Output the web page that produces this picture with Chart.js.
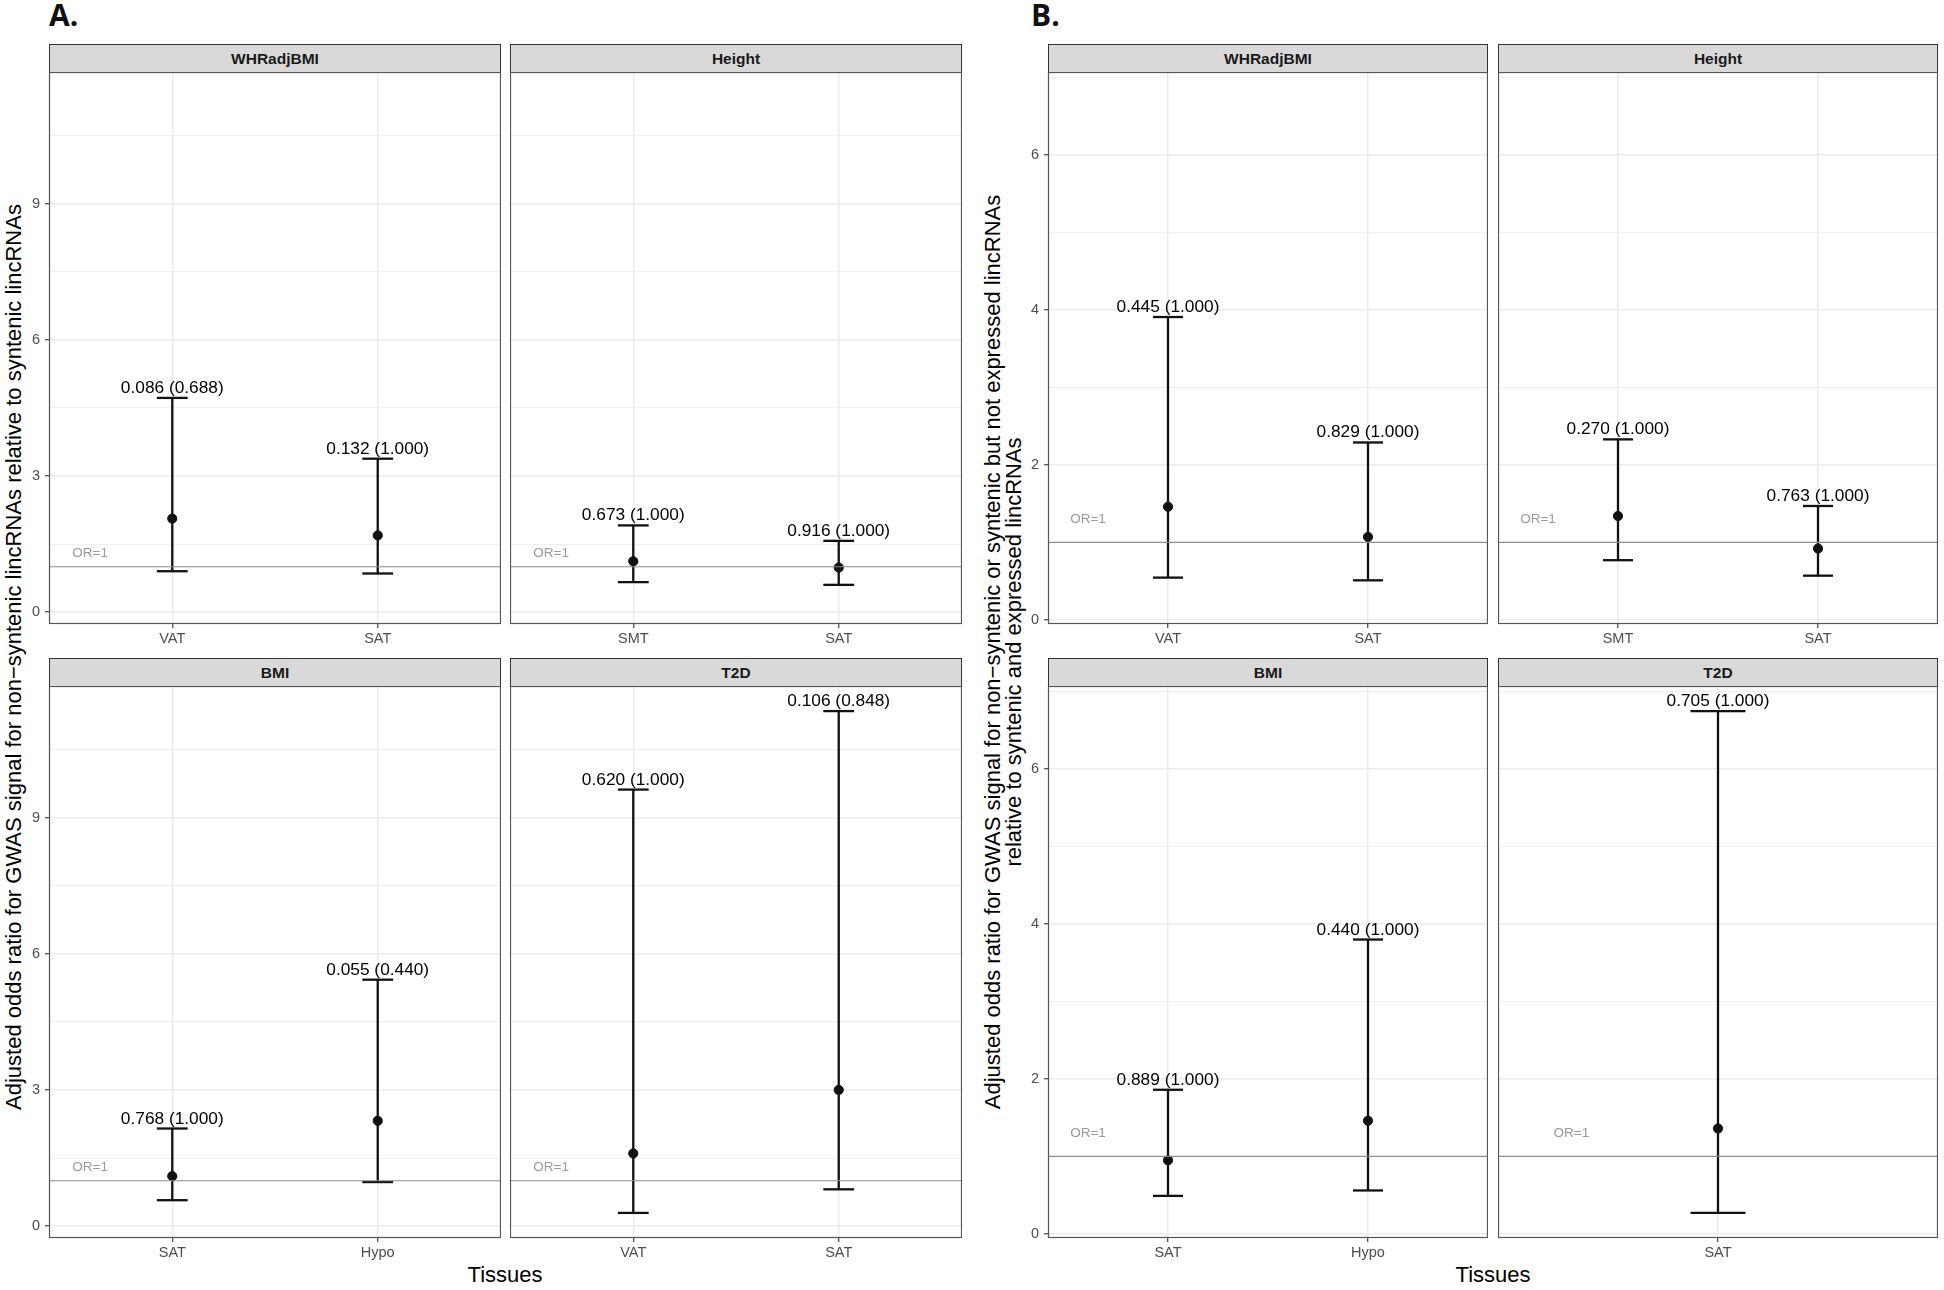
<!DOCTYPE html>
<html>
<head>
<meta charset="utf-8">
<title>Adjusted odds ratios by tissue</title>
<script src="https://cdn.jsdelivr.net/npm/chart.js@4.4.0/dist/chart.umd.min.js"></script>
<style>
  body { margin: 0; width: 1944px; height: 1290px; background: #fff; position: relative; overflow: hidden;
         font-family: "Liberation Sans", Arial, Helvetica, sans-serif; }
  canvas { position: absolute; }
  .strip { position: absolute; box-sizing: border-box; background: #d9d9d9; border: 1px solid #333;
           text-align: center; font-weight: bold; font-size: 15.5px; color: #1a1a1a; line-height: 27px; }
  .tag { position: absolute; font-family: "Open Sans", sans-serif; font-weight: 700; font-size: 30px; line-height: 30px; color: #111; }
  .xtitle { position: absolute; font-size: 22px; color: #000; transform: translate(-50%, -50%); white-space: nowrap; }
  .ytitle { position: absolute; font-size: 22px; color: #000; text-align: center; line-height: 21px;
            white-space: nowrap; transform: translate(-50%, -50%) rotate(-90deg); }
</style>
</head>
<body>

<div class="tag" style="left:49px; top:0px;">A.</div>
<div class="tag" style="left:1031px; top:0px;">B.</div>

<div class="ytitle" style="left:13px; top:657px;">Adjusted odds ratio for GWAS signal for non−syntenic lincRNAs relative to syntenic lincRNAs</div>
<div class="ytitle" style="left:1003px; top:652px;">Adjusted odds ratio for GWAS signal for non−syntenic or syntenic but not expressed lincRNAs<br>relative to syntenic and expressed lincRNAs</div>

<div class="xtitle" style="left:505px; top:1275px;">Tissues</div>
<div class="xtitle" style="left:1493px; top:1275px;">Tissues</div>

<script>
const facetNames = ['WHRadjBMI', 'Height', 'BMI', 'T2D'];

// A. non-syntenic vs syntenic lincRNAs
const aTissues = [['VAT', 'SAT'], ['SMT', 'SAT'], ['SAT', 'Hypo'], ['VAT', 'SAT']];
const aOR      = [[2.06, 1.69], [1.12, 0.98], [1.10, 2.32], [1.60, 3.00]];
const aLow     = [[0.90, 0.85], [0.66, 0.60], [0.57, 0.97], [0.29, 0.81]];
const aHigh    = [[4.72, 3.38], [1.91, 1.57], [2.15, 5.43], [9.62, 11.35]];
const aLabels  = [['0.086 (0.688)', '0.132 (1.000)'], ['0.673 (1.000)', '0.916 (1.000)'],
                  ['0.768 (1.000)', '0.055 (0.440)'], ['0.620 (1.000)', '0.106 (0.848)']];
const aTicks   = [0, 3, 6, 9];

// B. non-syntenic or syntenic-not-expressed vs syntenic and expressed
const bTissues = [['VAT', 'SAT'], ['SMT', 'SAT'], ['SAT', 'Hypo'], ['SAT']];
const bOR      = [[1.46, 1.07], [1.34, 0.92], [0.95, 1.46], [1.36]];
const bLow     = [[0.545, 0.51], [0.77, 0.57], [0.49, 0.56], [0.27]];
const bHigh    = [[3.91, 2.29], [2.33, 1.47], [1.86, 3.80], [6.75]];
const bLabels  = [['0.445 (1.000)', '0.829 (1.000)'], ['0.270 (1.000)', '0.763 (1.000)'],
                  ['0.889 (1.000)', '0.440 (1.000)'], ['0.705 (1.000)']];
const bTicks   = [0, 2, 4, 6];

const refLine = 1;          // OR = 1
const refText = 'OR=1';

// page layout (pixels)
const ROWS = [[44, 72, 624], [658, 686, 1238]];   // strip top, panel top, panel bottom
const Y_AXIS_W = 48;
const X_AXIS_H = 34;
const CAP = 0.075;          // half width of the error bar caps, in category units

const FONT = '"Liberation Sans", Arial, Helvetica, sans-serif';
Chart.defaults.font.family = FONT;

const halves = [
  { tissues: aTissues, or: aOR, low: aLow, high: aHigh, labels: aLabels, majors: aTicks, cols: [[49, 501], [510, 962]] },
  { tissues: bTissues, or: bOR, low: bLow, high: bHigh, labels: bLabels, majors: bTicks, cols: [[1048, 1488], [1498, 1938]] }
];

/* panel border + text annotations */
const panelExtras = {
  id: 'panelExtras',
  afterDatasetsDraw(chart, args, opts) {
    const { ctx, chartArea, scales: { x, y } } = chart;
    ctx.save();
    // value labels above the upper caps
    ctx.font = '17.3px ' + FONT;
    ctx.fillStyle = '#000';
    ctx.textAlign = 'center';
    ctx.textBaseline = 'alphabetic';
    opts.labels.forEach((t, i) => {
      ctx.fillText(t, x.getPixelForValue(i + 1), y.getPixelForValue(opts.high[i]) - 5);
    });
    // OR=1 note
    ctx.font = '13.5px ' + FONT;
    ctx.fillStyle = '#999';
    ctx.textBaseline = 'middle';
    ctx.fillText(refText, x.getPixelForValue(0.6), y.getPixelForValue(1.3));
    // border
    ctx.strokeStyle = '#555';
    ctx.lineWidth = 1.2;
    ctx.strokeRect(chartArea.left + 0.5, chartArea.top + 0.5, chartArea.width - 1, chartArea.height - 1);
    ctx.restore();
  }
};

function seg(points) {
  return { data: points, showLine: true, borderColor: '#111', borderWidth: 2.3, pointRadius: 0,
           borderCapStyle: 'butt', order: 2 };
}

function drawPanel(h, f, yMin, yMax) {
  const row = Math.floor(f / 2), col = f % 2;
  const [stripTop, pTop, pBottom] = ROWS[row];
  const [L, R] = h.cols[col];
  const showY = col === 0;
  const axW = showY ? Y_AXIS_W : 0;

  const strip = document.createElement('div');
  strip.className = 'strip';
  strip.textContent = facetNames[f];
  Object.assign(strip.style, { left: L + 'px', top: stripTop + 'px', width: (R - L) + 'px', height: (pTop - stripTop + 1) + 'px' });
  document.body.appendChild(strip);

  const canvas = document.createElement('canvas');
  canvas.width = (R - L) + axW;
  canvas.height = (pBottom - pTop) + X_AXIS_H;
  canvas.style.left = (L - axW) + 'px';
  canvas.style.top = pTop + 'px';
  document.body.appendChild(canvas);

  const tissues = h.tissues[f], or = h.or[f], low = h.low[f], high = h.high[f];
  const n = tissues.length;
  const xs = tissues.map((_, i) => i + 1);

  const step = h.majors[1] - h.majors[0];
  const yTicks = [];
  for (let v = h.majors[0] - step / 2; v <= yMax; v += step / 2) {
    if (v >= yMin) yTicks.push(v);
  }
  const isMajor = v => h.majors.includes(v);

  const datasets = [];
  xs.forEach((x, i) => {
    datasets.push(seg([{ x, y: low[i] }, { x, y: high[i] }]));
    datasets.push(seg([{ x: x - CAP, y: high[i] }, { x: x + CAP, y: high[i] }]));
    datasets.push(seg([{ x: x - CAP, y: low[i] }, { x: x + CAP, y: low[i] }]));
  });
  datasets.push({ data: xs.map((x, i) => ({ x, y: or[i] })), pointRadius: 4.6, pointBackgroundColor: '#111',
                  pointBorderColor: '#111', showLine: false, order: 1 });
  datasets.push({ data: [{ x: 0.4, y: refLine }, { x: n + 0.6, y: refLine }], showLine: true, borderColor: '#8c8c8c',
                  borderWidth: 1.1, pointRadius: 0, order: 0 });

  new Chart(canvas.getContext('2d'), {
    type: 'scatter',
    data: { datasets },
    options: {
      responsive: false,
      animation: false,
      layout: { padding: 0, autoPadding: false },
      plugins: {
        legend: { display: false },
        tooltip: { enabled: false },
        panelExtras: { labels: h.labels[f], high }
      },
      scales: {
        x: {
          type: 'linear', min: 0.4, max: n + 0.6,
          afterBuildTicks: s => { s.ticks = xs.map(v => ({ value: v })); },
          afterFit: s => { s.height = X_AXIS_H; s.paddingLeft = 0; s.paddingRight = 0; },
          ticks: { callback: (v, i) => tissues[i], color: '#4d4d4d', font: { size: 14.5 }, padding: 2, maxRotation: 0, autoSkip: false },
          grid: { color: '#ebebeb', lineWidth: 1.5, tickColor: '#333', tickLength: 4, tickWidth: 1.1 },
          border: { display: false }
        },
        y: {
          type: 'linear', min: yMin, max: yMax,
          afterBuildTicks: s => { s.ticks = yTicks.map(v => ({ value: v })); },
          afterFit: s => { s.width = axW; s.paddingTop = 0; s.paddingBottom = 0; },
          ticks: { display: showY, callback: v => (isMajor(v) ? String(v) : ''), color: '#4d4d4d', font: { size: 14.5 }, padding: 5, autoSkip: false },
          grid: {
            color: '#ebebeb',
            lineWidth: c => (isMajor(c.tick.value) ? 1.5 : 0.8),
            drawTicks: showY,
            tickColor: c => (isMajor(c.tick.value) ? '#333' : 'rgba(0,0,0,0)'),
            tickLength: 4, tickWidth: 1.1
          },
          border: { display: false }
        }
      }
    },
    plugins: [panelExtras]
  });
}

halves.forEach(h => {
  const lo = Math.min(...h.low.flat());
  const hi = Math.max(...h.high.flat());
  const pad = 0.05 * (hi - lo);
  facetNames.forEach((_, f) => drawPanel(h, f, lo - pad, hi + pad));
});
</script>
</body>
</html>
